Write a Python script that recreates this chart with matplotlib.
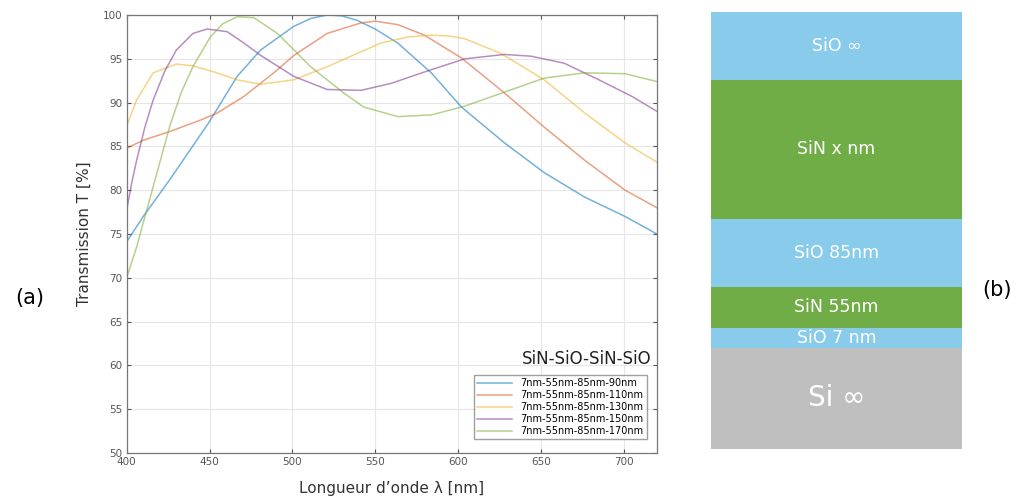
import matplotlib.pyplot as plt
from matplotlib.patches import Rectangle

# transmission curves, wavelength in nm, T in %
wl_90 = [400, 410, 426, 449.5, 466.7, 480.8, 500.8, 511, 521, 530, 539, 550, 563.6, 583.8, 602, 628, 652, 676.5, 700.8, 720]
t_90 = [74.1, 77.0, 81.2, 87.7, 93.0, 96.0, 98.7, 99.6, 100.0, 99.9, 99.4, 98.4, 96.8, 93.4, 89.5, 85.4, 82.0, 79.2, 77.0, 75.0]

wl_110 = [400, 410, 426, 444.5, 454.5, 470.7, 488.8, 501, 521, 541.4, 550, 563.6, 579.7, 602, 628, 652, 676.5, 700.8, 720]
t_110 = [84.8, 85.7, 86.7, 88.0, 88.8, 90.7, 93.4, 95.4, 97.9, 99.1, 99.3, 98.9, 97.7, 95.1, 91.1, 87.2, 83.4, 80.0, 78.0]

wl_130 = [400, 406, 416, 430, 440, 454.5, 466.7, 480.8, 500.8, 521, 541.4, 553.5, 570, 583.8, 595, 604, 626, 652, 676.5, 700.8, 720]
t_130 = [87.3, 90.3, 93.4, 94.4, 94.2, 93.4, 92.6, 92.1, 92.6, 94.1, 95.8, 96.8, 97.5, 97.7, 97.6, 97.3, 95.6, 92.6, 88.8, 85.4, 83.2]

wl_150 = [400, 403, 406, 411, 416, 423, 430, 440, 448.5, 460.6, 470, 480.8, 500.8, 521, 541.4, 559.6, 579.7, 604, 628, 644, 664, 685, 705, 720]
t_150 = [77.7, 80.8, 83.4, 87.2, 90.3, 93.6, 96.0, 97.9, 98.4, 98.1, 96.9, 95.4, 93.0, 91.5, 91.4, 92.2, 93.5, 95.0, 95.5, 95.3, 94.5, 92.6, 90.7, 89.0]

wl_170 = [400, 406, 416, 426, 433, 440, 450.5, 458, 466.7, 476.7, 491, 511, 531, 543, 563.6, 584, 604, 628, 652, 676.5, 700.8, 720]
t_170 = [70.0, 73.5, 80.4, 87.3, 91.2, 94.1, 97.5, 99.0, 99.8, 99.7, 97.9, 94.1, 91.1, 89.5, 88.4, 88.6, 89.6, 91.2, 92.8, 93.4, 93.3, 92.4]

series = [
    (wl_90, t_90, "7nm-55nm-85nm-90nm", "#0072BD"),
    (wl_110, t_110, "7nm-55nm-85nm-110nm", "#D95319"),
    (wl_130, t_130, "7nm-55nm-85nm-130nm", "#EDB120"),
    (wl_150, t_150, "7nm-55nm-85nm-150nm", "#7E2F8E"),
    (wl_170, t_170, "7nm-55nm-85nm-170nm", "#77AC30"),
]

# layer stack, top to bottom (drawn thickness, not physical)
layer_names = ["SiO \u221e", "SiN x nm", "SiO 85nm", "SiN 55nm", "SiO 7 nm", "Si \u221e"]
layer_sizes = [68, 139, 68, 41, 20, 101]
layer_colors = ["#89CBEA", "#70AD47", "#89CBEA", "#70AD47", "#89CBEA", "#BFBFBF"]
layer_fs = [12.5, 12.5, 12.5, 12.5, 12.5, 20]

fig = plt.figure(figsize=(10.19, 5.04), dpi=100)

ax = fig.add_axes([0.1243, 0.1012, 0.5204, 0.869])
for wl, t, lab, col in series:
    ax.plot(wl, t, color=col, alpha=0.55, lw=1.1, label=lab)

ax.set_xlim(400, 720)
ax.set_ylim(50, 100)
ax.set_xticks([400, 450, 500, 550, 600, 650, 700])
ax.set_yticks(range(50, 101, 5))
ax.grid(True, color="#e6e6e6", lw=0.8)
ax.tick_params(direction="in", top=True, right=True, labelsize=7.5,
               colors="#555555", length=3, pad=3)
for s in ax.spines.values():
    s.set_color("#777777")
    s.set_linewidth(0.9)
ax.set_xlabel("Longueur d\u2019onde \u03bb [nm]", fontsize=11, color="#333333", labelpad=10)
ax.set_ylabel("Transmission T [%]", fontsize=11, color="#333333", labelpad=8)

leg = ax.legend(loc="lower right", fontsize=7, frameon=True, fancybox=False,
                edgecolor="#888888", handlelength=3.6, borderpad=0.35,
                labelspacing=0.2, bbox_to_anchor=(0.99, 0.02))
ax.text(0.99, 0.195, "SiN-SiO-SiN-SiO", transform=ax.transAxes, ha="right",
        va="bottom", fontsize=12, color="#222222")

# layer stack panel
ax2 = fig.add_axes([711 / 1019, 1 - 449 / 504, (962 - 711) / 1019, (449 - 12) / 504])
total = sum(layer_sizes)
top = total
for name, h, col, fs in zip(layer_names, layer_sizes, layer_colors, layer_fs):
    ax2.add_patch(Rectangle((0, top - h), 1, h, color=col, lw=0))
    ax2.text(0.5, top - h / 2, name, ha="center", va="center", color="white",
             fontsize=fs)
    top -= h
ax2.set_xlim(0, 1)
ax2.set_ylim(0, total)
ax2.axis("off")

fig.text(30 / 1019, 1 - 298 / 504, "(a)", fontsize=15, ha="center", va="center")
fig.text(997 / 1019, 1 - 290 / 504, "(b)", fontsize=15, ha="center", va="center")

fig.savefig("out.png", dpi=100)
